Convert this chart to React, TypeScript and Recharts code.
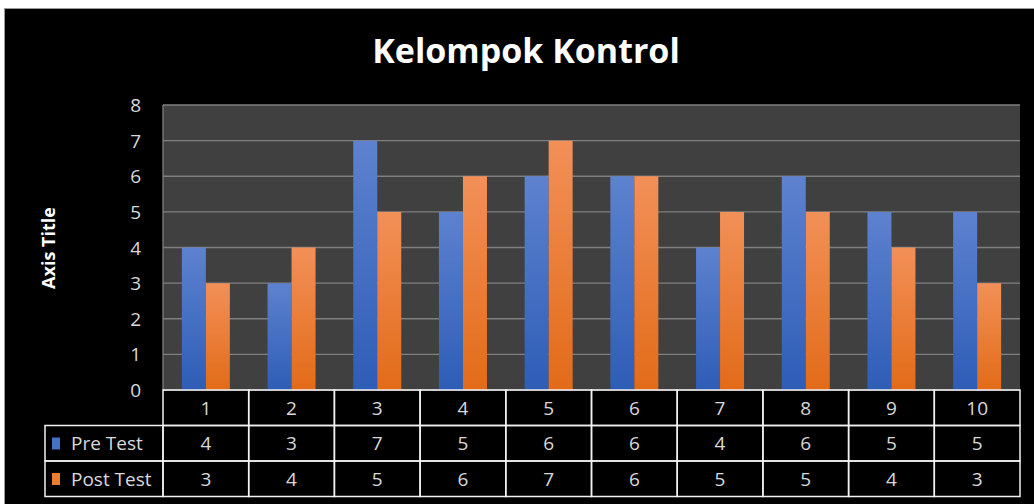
import React from "react";
import { BarChart, Bar, XAxis, YAxis, CartesianGrid } from "recharts";

const categories = ["1", "2", "3", "4", "5", "6", "7", "8", "9", "10"];
const preTest = [4, 3, 7, 5, 6, 6, 4, 6, 5, 5];
const postTest = [3, 4, 5, 6, 7, 6, 5, 5, 4, 3];
const yTicks = [0, 1, 2, 3, 4, 5, 6, 7, 8];
const seriesNames = ["Pre Test", "Post Test"];

const data = categories.map((c, i) => ({ cat: c, pre: preTest[i], post: postTest[i] }));

const W = 1034;
const H = 504;
const PLOT_LEFT = 163;
const PLOT_RIGHT = 14;
const COL_W = (W - PLOT_LEFT - PLOT_RIGHT) / categories.length;
const ROW_H = 35.5;
const LABEL_LEFT = 45;
const FONT = "'Open Sans', 'DejaVu Sans', sans-serif";
const TXT = "#d9d9d9";
const LINE = "#f2f2f2";
const KEY_COLORS = ["#4472C4", "#ED7D31"];

// data table drawn under the plot, one column per category tick
function TableTick(props: any) {
  const { x, y, payload, index } = props;
  const i = index ?? payload.index;
  const left = x - COL_W / 2;
  const rows = [categories[i], String(preTest[i]), String(postTest[i])];
  return (
    <g>
      {rows.map((v, r) => (
        <g key={r}>
          <rect x={left} y={y + r * ROW_H} width={COL_W} height={ROW_H} fill="none" stroke={LINE} strokeWidth={1.5} />
          <text x={x} y={y + r * ROW_H + ROW_H / 2 + 7} textAnchor="middle" fill={TXT} fontSize={19} fontFamily={FONT}>
            {v}
          </text>
        </g>
      ))}
      {i === 0 &&
        seriesNames.map((name, r) => (
          <g key={name}>
            <rect
              x={LABEL_LEFT}
              y={y + (r + 1) * ROW_H}
              width={PLOT_LEFT - LABEL_LEFT}
              height={ROW_H}
              fill="none"
              stroke={LINE}
              strokeWidth={1.5}
            />
            <rect x={52} y={y + (r + 1) * ROW_H + 12} width={8} height={12} fill={KEY_COLORS[r]} />
            <text x={71} y={y + (r + 1) * ROW_H + ROW_H / 2 + 7} fill={TXT} fontSize={19} fontFamily={FONT}>
              {name}
            </text>
          </g>
        ))}
    </g>
  );
}

function YTick(props: any) {
  const { y, payload } = props;
  return (
    <text x={141} y={y + 7} textAnchor="end" fill={TXT} fontSize={19} fontFamily={FONT}>
      {payload.value}
    </text>
  );
}

export default function App() {
  return (
    <div style={{ position: "absolute", left: 0, top: 0, width: W, height: H, background: "#fff" }}>
      <div
        style={{
          position: "absolute",
          left: 4,
          top: 8,
          width: W - 4,
          height: H - 8,
          background: "#000",
          borderTop: "1px solid #999",
          borderLeft: "1px solid #999",
          boxSizing: "border-box",
        }}
      />
      <div style={{ position: "absolute", left: 0, top: 0 }}>
        <BarChart
          width={W}
          height={H}
          data={data}
          margin={{ top: 105, right: PLOT_RIGHT, left: 0, bottom: 7.5 }}
          barCategoryGap="22%"
          barGap={0}
        >
          <defs>
            <linearGradient id="gPre" x1="0" y1="0" x2="0" y2="1">
              <stop offset="0%" stopColor="#5d82cf" />
              <stop offset="100%" stopColor="#2e5db6" />
            </linearGradient>
            <linearGradient id="gPost" x1="0" y1="0" x2="0" y2="1">
              <stop offset="0%" stopColor="#f29058" />
              <stop offset="100%" stopColor="#e26b18" />
            </linearGradient>
          </defs>
          <CartesianGrid fill="#404040" stroke="#7f7f7f" strokeWidth={1.3} vertical={false} />
          <XAxis
            dataKey="cat"
            height={106.5}
            tickLine={false}
            tickSize={0}
            tickMargin={0}
            axisLine={false}
            interval={0}
            tick={<TableTick />}
          />
          <YAxis
            width={PLOT_LEFT}
            domain={[0, 8]}
            ticks={yTicks}
            tickLine={false}
            axisLine={{ stroke: "#7f7f7f", strokeWidth: 1.3 }}
            tick={<YTick />}
          />
          <Bar dataKey="pre" name="Pre Test" fill="url(#gPre)" isAnimationActive={false} />
          <Bar dataKey="post" name="Post Test" fill="url(#gPost)" isAnimationActive={false} />
        </BarChart>
      </div>
      <svg width={W} height={H} style={{ position: "absolute", left: 0, top: 0, pointerEvents: "none" }}>
        <text x={526} y={63} textAnchor="middle" fill="#fff" fontSize={34} fontWeight="bold" fontFamily={FONT}>
          Kelompok Kontrol
        </text>
        <text
          x={0}
          y={0}
          transform="translate(55 248) rotate(-90)"
          textAnchor="middle"
          fill="#fff"
          fontSize={18}
          fontWeight="bold"
          fontFamily={FONT}
        >
          Axis Title
        </text>
      </svg>
    </div>
  );
}
